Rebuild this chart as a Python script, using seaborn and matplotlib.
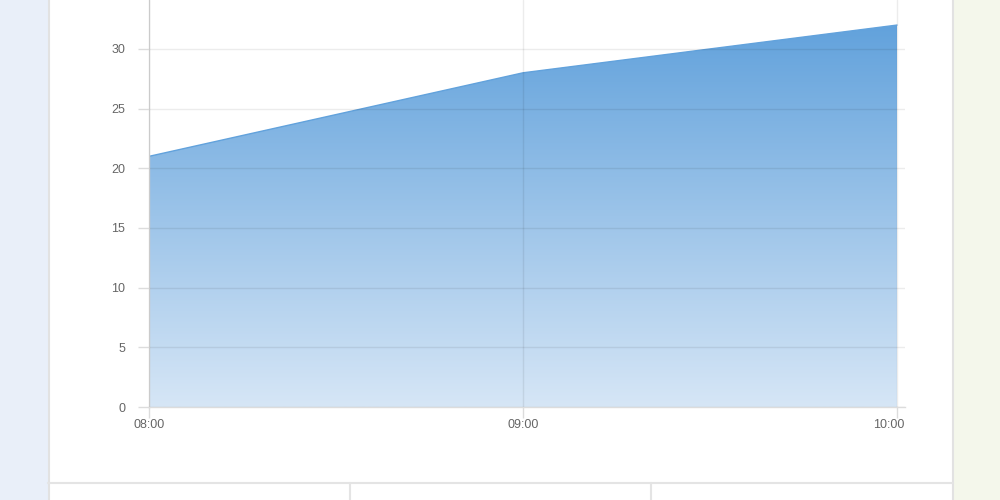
import numpy as np
import pandas as pd
import matplotlib.pyplot as plt
import matplotlib.transforms as mtransforms
import seaborn as sns
from matplotlib.colors import LinearSegmentedColormap
from matplotlib.patches import Rectangle
from matplotlib.lines import Line2D

# values
hours = ['08:00', '09:00', '10:00']
counts = [21, 28, 32]
y_ticks = [0, 5, 10, 15, 20, 25, 30]

df = pd.DataFrame({'x': np.arange(len(hours)), 'count': counts})

sns.set_theme(style='white')
plt.rcParams['font.family'] = ['Liberation Sans', 'DejaVu Sans']

fig = plt.figure(figsize=(10, 5), dpi=100)
fig.patch.set_facecolor('white')

# page background around the card
fig.add_artist(Rectangle((0, 0), 0.048, 1, transform=fig.transFigure, color='#e9eff9', zorder=0))
fig.add_artist(Rectangle((0.953, 0), 0.047, 1, transform=fig.transFigure, color='#f4f7eb', zorder=0))
fig.add_artist(Line2D([0.0485, 0.0485], [0, 1], transform=fig.transFigure, color='#e2e2e2', lw=1.5))
fig.add_artist(Line2D([0.9525, 0.9525], [0, 1], transform=fig.transFigure, color='#e2e2e2', lw=1.5))
fig.add_artist(Line2D([0.048, 0.953], [0.034, 0.034], transform=fig.transFigure, color='#e4e4e4', lw=1.5))
for xf in [0.350, 0.651]:
    fig.add_artist(Line2D([xf, xf], [0, 0.034], transform=fig.transFigure, color='#e4e4e4', lw=1.5))

ax = fig.add_axes([0.149, 0.186, 0.756, 0.814])
ax.set_facecolor('white')

xmax = len(hours) - 1
ymax = 34.1

# gradient area
poly = ax.fill_between(df['x'], 0, df['count'], color='none', lw=0)
cmap = LinearSegmentedColormap.from_list('blues', ['#d6e6f6', '#62a2dc'])
grad = np.linspace(0, 1, 256).reshape(-1, 1)
img = ax.imshow(grad, cmap=cmap, origin='lower', aspect='auto',
                extent=[0, xmax, 0, max(counts)], zorder=1)
img.set_clip_path(poly.get_paths()[0], transform=ax.transData)
sns.lineplot(data=df, x='x', y='count', color='#62a2dc', lw=1.0, ax=ax, zorder=2)

ax.set_xlim(0, xmax + 8 / 374)
ax.set_ylim(0, ymax)
ax.set_xticks(df['x'])
ax.set_xticklabels(hours)
ax.set_yticks(y_ticks)
ax.set_xlabel('')
ax.set_ylabel('')

ax.grid(True, color='#000000', alpha=0.075, lw=1)
ax.set_axisbelow(False)
for s in ['top', 'right']:
    ax.spines[s].set_visible(False)
for s in ['left', 'bottom']:
    ax.spines[s].set_color('#dcdcdc')
    ax.spines[s].set_linewidth(1)
ax.tick_params(axis='both', length=8, width=1, color='#dcdcdc', labelcolor='#666666',
               labelsize=9, direction='out', left=True, bottom=True)
ax.tick_params(axis='x', pad=1)
ax.tick_params(axis='y', pad=9)

# last label is pulled inside the plot edge
last = ax.get_xticklabels()[-1]
last.set_transform(last.get_transform() + mtransforms.ScaledTranslation(-8 / 100, 0, fig.dpi_scale_trans))

fig.savefig('out.png', dpi=100)
